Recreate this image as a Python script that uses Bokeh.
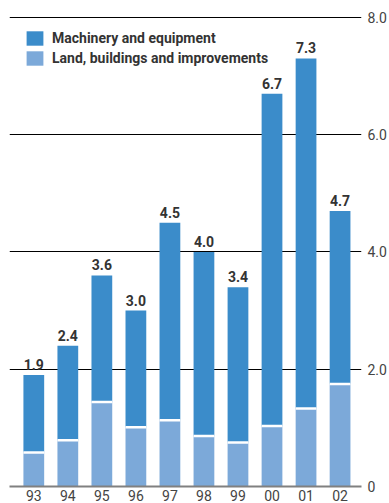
from bokeh.plotting import figure
from bokeh.models import (Range1d, FixedTicker, LinearAxis, Legend, LegendItem,
                          ColumnDataSource)
from bokeh.embed import file_html
from bokeh.resources import INLINE
from bokeh.core.properties import value

years = ["93", "94", "95", "96", "97", "98", "99", "00", "01", "02"]
total = [1.9, 2.4, 3.6, 3.0, 4.5, 4.0, 3.4, 6.7, 7.3, 4.7]
land = [0.58, 0.79, 1.44, 1.01, 1.13, 0.86, 0.75, 1.03, 1.33, 1.75]
y_ticks = [0, 2, 4, 6, 8]
y_tick_labels = ["0", "2.0", "4.0", "6.0", "8.0"]
series_names = ["Machinery and equipment", "Land, buildings and improvements"]

DARK = "#3b8cca"
LIGHT = "#7ca9d9"
FONT = "Roboto"
BAR_W = 0.61

idx = list(range(len(years)))
src = ColumnDataSource(dict(
    x=idx, total=total, land=land,
    x0=[i - BAR_W / 2 for i in idx], x1=[i + BAR_W / 2 for i in idx],
    label=[f"{t:.1f}" for t in total],
))

p = figure(width=389, height=503, output_backend="svg", toolbar_location=None,
           x_range=Range1d(-0.714, 9.63), y_range=Range1d(0, 8.05),
           y_axis_location=None, min_border_left=9, min_border_right=0,
           min_border_top=14, min_border_bottom=0)
p.outline_line_color = None
p.background_fill_color = "white"

r_land = p.vbar(x="x", width=BAR_W, bottom=0, top="land", source=src,
                fill_color=LIGHT, line_color=None)
r_mach = p.vbar(x="x", width=BAR_W, bottom="land", top="total", source=src,
                fill_color=DARK, line_color=None)
p.segment(x0="x0", x1="x1", y0="land", y1="land", source=src,
          line_color="white", line_width=2.5, line_cap="butt")

p.text(x="x", y="total", text="label", source=src, text_align="center",
       text_baseline="bottom", y_offset=-5, text_font=value(FONT),
       text_font_style="bold", text_font_size="14px", text_color="#333333")

# grid
p.xgrid.visible = False
p.ygrid.ticker = FixedTicker(ticks=y_ticks[1:])
p.ygrid.grid_line_color = "black"
p.ygrid.grid_line_width = 1
p.ygrid.grid_line_alpha = 1

# x axis
xa = p.xaxis[0]
xa.ticker = FixedTicker(ticks=idx)
xa.major_label_overrides = {i: y for i, y in zip(idx, years)}
xa.axis_line_color = "#808080"
xa.axis_line_width = 2
xa.major_tick_line_color = None
xa.minor_tick_line_color = None
xa.major_tick_out = 0
xa.major_tick_in = 0
xa.minor_tick_out = 0
xa.major_label_standoff = 3
xa.major_label_text_font = FONT
xa.major_label_text_font_size = "14px"
xa.major_label_text_color = "#444444"

# right axis
ya = LinearAxis(ticker=FixedTicker(ticks=y_ticks),
                major_label_overrides={t: l for t, l in zip(y_ticks, y_tick_labels)})
ya.axis_line_color = None
ya.major_tick_line_color = None
ya.minor_tick_line_color = None
ya.major_tick_out = 0
ya.major_tick_in = 0
ya.minor_tick_out = 0
ya.major_label_standoff = 6
ya.major_label_text_font = FONT
ya.major_label_text_font_size = "14px"
ya.major_label_text_color = "#444444"
p.add_layout(ya, "right")

legend = Legend(items=[LegendItem(label=series_names[0], renderers=[r_mach]),
                       LegendItem(label=series_names[1], renderers=[r_land])],
                location="top_left", margin=15, padding=0,
                glyph_width=21, glyph_height=18, spacing=2,
                label_standoff=7, label_height=18,
                label_text_font=FONT, label_text_font_style="bold",
                label_text_font_size="14px", label_text_color="#333333",
                background_fill_alpha=0, border_line_color=None)
p.add_layout(legend)

open("out.html", "w").write(file_html(p, INLINE))
